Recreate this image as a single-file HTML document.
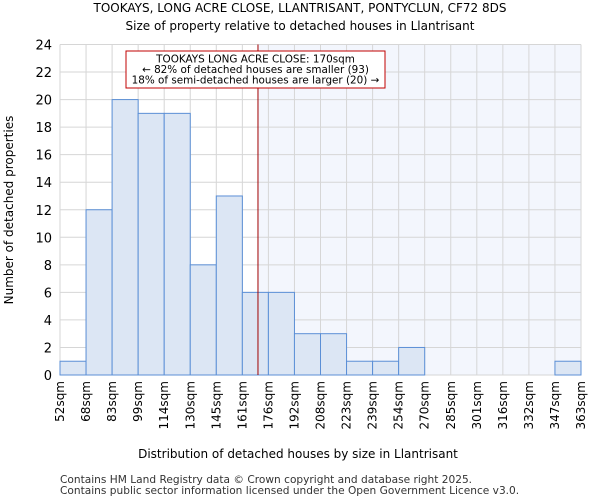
<!DOCTYPE html>
<html><head><meta charset="utf-8"><style>
body{margin:0;background:#fff;font-family:"DejaVu Sans","Liberation Sans",sans-serif}
</style></head><body>
<svg id="chart" width="600" height="500" xmlns="http://www.w3.org/2000/svg" font-family="DejaVu Sans, Liberation Sans, sans-serif">
<text x="300" y="12" font-size="12" text-anchor="middle">TOOKAYS, LONG ACRE CLOSE, LLANTRISANT, PONTYCLUN, CF72 8DS</text>
<text x="300" y="30" font-size="12" text-anchor="middle">Size of property relative to detached houses in Llantrisant</text>
<g id="plot"></g>
<text x="298" y="458" font-size="12" text-anchor="middle">Distribution of detached houses by size in Llantrisant</text>
<text transform="translate(13,210) rotate(-90)" font-size="12" text-anchor="middle">Number of detached properties</text>
<text x="60" y="483" font-size="10.6" fill="#333">Contains HM Land Registry data © Crown copyright and database right 2025.</text>
<text x="60" y="494" font-size="10.6" fill="#333">Contains public sector information licensed under the Open Government Licence v3.0.</text>
</svg>
<script>
const categories=["52sqm","68sqm","83sqm","99sqm","114sqm","130sqm","145sqm","161sqm","176sqm","192sqm","208sqm","223sqm","239sqm","254sqm","270sqm","285sqm","301sqm","316sqm","332sqm","347sqm","363sqm"];
const binStarts=[52,68,83,99,114,130,145,161,176,192,208,223,239,254,270,285,301,316,332,347,363];
const counts=[1,12,20,19,19,8,13,6,6,3,3,1,1,2,0,0,0,0,0,1];
const yTicks=[0,2,4,6,8,10,12,14,16,18,20,22,24];
const markerValue=170;
const annotationLines=["TOOKAYS LONG ACRE CLOSE: 170sqm","← 82% of detached houses are smaller (93)","18% of semi-detached houses are larger (20) →"];

const NS="http://www.w3.org/2000/svg";
const L=60,R=581,T=44.5,B=375,yMax=24;
const n=counts.length,bw=(R-L)/n;
const x=i=>L+i*bw;
const y=v=>B-(v/yMax)*(B-T);
function xv(v){let i=0;while(i<binStarts.length-2&&v>=binStarts[i+1])i++;return x(i)+(v-binStarts[i])/(binStarts[i+1]-binStarts[i])*bw;}
const g=document.getElementById('plot');
function mk(t,a){const e=document.createElementNS(NS,t);for(const k in a)e.setAttribute(k,a[k]);g.appendChild(e);return e;}
const mx=xv(markerValue);
let e=mk('rect',{x:mx,y:T,width:R-mx,height:B-T,fill:'#f3f6fd'});


for(let i=0;i<=n;i++){e=mk('line',{x1:x(i),x2:x(i),y1:T,y2:B,stroke:'#d6d6d6','stroke-width':1});

}
yTicks.forEach(t=>{e=mk('line',{x1:L,x2:R,y1:y(t),y2:y(t),stroke:'#d6d6d6','stroke-width':1});


e=mk('text',{x:L-8,y:y(t)+5,'font-size':13,'text-anchor':'end'});e.textContent=t;

});
counts.forEach((c,i)=>{if(c<=0)return;e=mk('rect',{x:x(i),y:y(c),width:bw,height:B-y(c),fill:'#dce6f4',stroke:'#5b8fd6','stroke-width':1});

});
categories.forEach((c,i)=>{e=mk('text',{transform:`translate(${x(i)+4},381) rotate(-90)`,'font-size':12,'text-anchor':'end'});e.textContent=c;

});
e=mk('line',{x1:mx,x2:mx,y1:T,y2:B,stroke:'#a00000','stroke-width':1});


e=mk('rect',{x:126,y:51,width:259,height:37,fill:'#fff',stroke:'#c00000','stroke-width':1});


annotationLines.forEach((s,i)=>{e=mk('text',{x:255.5,y:62.5+i*10.5,'font-size':10.4,'text-anchor':'middle'});e.textContent=s;

});
</script>
</body></html>
